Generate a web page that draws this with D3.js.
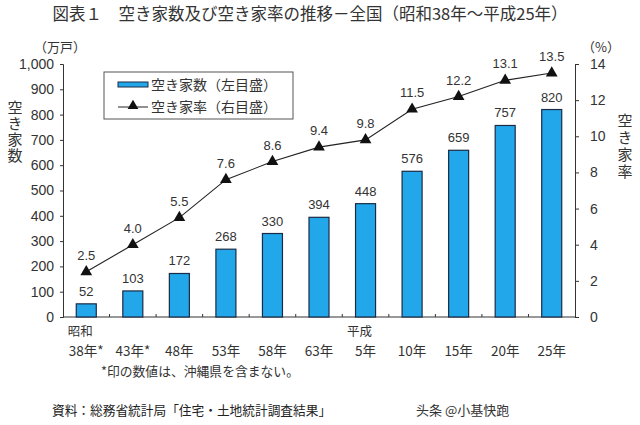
<!DOCTYPE html>
<html><head><meta charset="utf-8">
<script src="https://cdn.jsdelivr.net/npm/d3@7"></script>
<style>
body{margin:0;background:#fff;}
svg{display:block;}
text{font-family:"Noto Sans CJK JP","Noto Sans",sans-serif;fill:#333;}
.num{font-family:"Liberation Sans",Arial,sans-serif;}
</style></head>
<body>
<svg id="c" width="640" height="425"></svg>
<script>
const categories = ["38年","43年","48年","53年","58年","63年","5年","10年","15年","20年","25年"];
const eraLabels = ["昭和","","","","","","平成","","","",""];
const asterisk = [true,true,false,false,false,false,false,false,false,false,false];
const vacantHomes = [52,103,172,268,330,394,448,576,659,757,820];
const vacancyRate = [2.5,4.0,5.5,7.6,8.6,9.4,9.8,11.5,12.2,13.1,13.5];
const leftTicks = [0,100,200,300,400,500,600,700,800,900,1000];
const rightTicks = [0,2,4,6,8,10,12,14];

const svg = d3.select("#c");
const L = 63, R = 575, T = 64, B = 317;

const x = d3.scaleBand().domain(categories).range([L, R]).paddingInner(0.57).paddingOuter(0.285);
const xb = d3.scaleBand().domain(categories).range([L, R]);
const yL = d3.scaleLinear().domain([0, 1000]).range([B, T]);
const yR = d3.scaleLinear().domain([0, 14]).range([B, T]);

// title
svg.append("text").attr("x", 310).attr("y", 20).attr("text-anchor", "middle")
  .attr("font-size", 16.5).style("fill", "#333")
  .text("図表１　空き家数及び空き家率の推移－全国（昭和38年～平成25年）");

// left axis
const gl = svg.append("g").attr("transform", `translate(${L},0)`)
  .call(d3.axisLeft(yL).tickValues(leftTicks).tickSize(3).tickPadding(6)
    .tickFormat(d => d3.format(",")(d)));
gl.select(".domain").attr("stroke", "#333");
gl.selectAll(".tick line").attr("stroke", "#333");
gl.selectAll(".tick text").attr("class", "num").attr("font-size", 14).style("fill", "#333");

// right axis
const gr = svg.append("g").attr("transform", `translate(${R},0)`)
  .call(d3.axisRight(yR).tickValues(rightTicks).tickSize(4).tickPadding(11));
gr.select(".domain").attr("stroke", "#333");
gr.selectAll(".tick line").attr("stroke", "#333");
gr.selectAll(".tick text").attr("class", "num").attr("font-size", 14).style("fill", "#333");

// bottom axis (baseline with small up ticks between categories)
svg.append("line").attr("x1", L).attr("x2", R).attr("y1", B).attr("y2", B).attr("stroke", "#333");
svg.selectAll(".xt").data(categories.slice(1)).enter().append("line")
  .attr("x1", d => xb(d)).attr("x2", d => xb(d)).attr("y1", B).attr("y2", B - 3).attr("stroke", "#333");

// bars
svg.selectAll(".bar").data(vacantHomes).enter().append("rect")
  .attr("x", (d, i) => x(categories[i])).attr("width", x.bandwidth())
  .attr("y", d => yL(d)).attr("height", d => B - yL(d))
  .attr("fill", "#22a7ea").attr("stroke", "#1b2b45").attr("stroke-width", 1.2);

svg.selectAll(".bl").data(vacantHomes).enter().append("text").attr("class", "num")
  .attr("x", (d, i) => x(categories[i]) + x.bandwidth() / 2).attr("y", d => yL(d) - 8)
  .attr("text-anchor", "middle").attr("font-size", 13).text(d => d);

// line
const cx = i => xb(categories[i]) + xb.bandwidth() / 2;
svg.append("path").datum(vacancyRate)
  .attr("d", d3.line().x((d, i) => cx(i)).y(d => yR(d)))
  .attr("fill", "none").attr("stroke", "#222").attr("stroke-width", 1.1);
svg.selectAll(".pt").data(vacancyRate).enter().append("path")
  .attr("d", d3.symbol().type(d3.symbolTriangle).size(60))
  .attr("transform", (d, i) => `translate(${cx(i)},${yR(d)})`).attr("fill", "#111");
svg.selectAll(".rl").data(vacancyRate).enter().append("text").attr("class", "num")
  .attr("x", (d, i) => cx(i)).attr("y", d => yR(d) - 12)
  .attr("text-anchor", "middle").attr("font-size", 13).text(d => d.toFixed(1));

// x labels
svg.selectAll(".era").data(eraLabels).enter().append("text")
  .attr("x", (d, i) => cx(i) - 6).attr("y", 336).attr("text-anchor", "middle")
  .attr("font-size", 12.5).text(d => d);
svg.selectAll(".cat").data(categories).enter().append("text")
  .attr("x", (d, i) => cx(i)).attr("y", 356).attr("text-anchor", "middle")
  .attr("font-size", 13.5).text((d, i) => d + (asterisk[i] ? "*" : ""));
svg.append("text").attr("x", 101).attr("y", 376).attr("font-size", 12.8)
  .text("*印の数値は、沖縄県を含まない。");

// units
svg.append("text").attr("x", 34).attr("y", 52).attr("font-size", 13).text("（万戸）");
svg.append("text").attr("x", 582).attr("y", 52).attr("font-size", 13).text("（%）");

// axis titles (vertical)
svg.append("text").attr("x", 15).attr("y", 132).attr("text-anchor", "middle")
  .style("writing-mode", "vertical-rl").attr("font-size", 15).attr("letter-spacing", 1).text("空き家数");
svg.append("text").attr("x", 625).attr("y", 147).attr("text-anchor", "middle")
  .style("writing-mode", "vertical-rl").attr("font-size", 15).attr("letter-spacing", 2).text("空き家率");

// legend
const lg = svg.append("g");
lg.append("rect").attr("x", 104).attr("y", 72).attr("width", 189).attr("height", 47)
  .attr("fill", "#fff").attr("stroke", "#555");
lg.append("rect").attr("x", 118).attr("y", 82).attr("width", 30).attr("height", 5)
  .attr("fill", "#22a7ea").attr("stroke", "#1b2b45");
lg.append("text").attr("x", 151).attr("y", 90).attr("font-size", 14).text("空き家数（左目盛）");
lg.append("line").attr("x1", 118).attr("x2", 148).attr("y1", 107).attr("y2", 107).attr("stroke", "#222");
lg.append("path").attr("d", d3.symbol().type(d3.symbolTriangle).size(50))
  .attr("transform", "translate(133,106)").attr("fill", "#111");
lg.append("text").attr("x", 151).attr("y", 112).attr("font-size", 14).text("空き家率（右目盛）");

// source & watermark
svg.append("text").attr("x", 52).attr("y", 415).attr("font-size", 12.7).style("fill", "#222")
  .text("資料：総務省統計局「住宅・土地統計調査結果」");
svg.append("text").attr("x", 416).attr("y", 415).attr("font-size", 13).style("fill", "#333")
  .text("头条 @小基快跑");
</script>
</body></html>
